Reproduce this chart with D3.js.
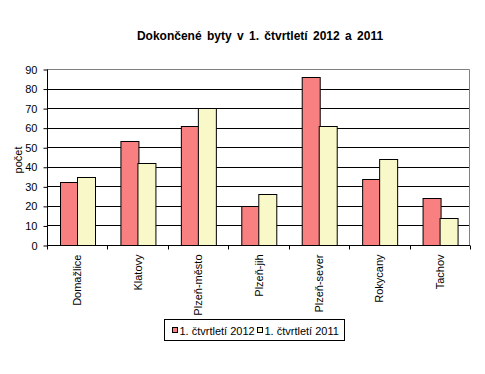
<!DOCTYPE html>
<html>
<head>
<meta charset="utf-8">
<script src="https://cdn.jsdelivr.net/npm/d3@7"></script>
<style>
  body { margin: 0; background: #fff; }
  svg { display: block; font-family: "Liberation Sans", Arial, sans-serif; }
</style>
</head>
<body>
<div id="chart"></div>
<script>
const categories = ['Domažlice', 'Klatovy', 'Plzeň-město', 'Plzeň-jih', 'Plzeň-sever', 'Rokycany', 'Tachov'];
const series = ['1. čtvrtletí 2012', '1. čtvrtletí 2011'];
const values2012 = [32, 53, 61, 20, 86, 34, 24];
const values2011 = [35, 42, 70, 26, 61, 44, 14];
const yTicks = [0, 10, 20, 30, 40, 50, 60, 70, 80, 90];
const colors = ['#f88080', '#f8f8c8'];

const width = 485, height = 374;
const plot = { left: 47, right: 470, top: 69, bottom: 245 };

const svg = d3.select('#chart').append('svg')
  .attr('width', width)
  .attr('height', height);

const x = d3.scaleBand()
  .domain(categories)
  .range([plot.left, plot.right])
  .paddingInner(0)
  .paddingOuter(0);
const inner = d3.scaleBand()
  .domain(series)
  .range([0, x.bandwidth()])
  .paddingInner(0)
  .paddingOuter(0.72); // ~ excel gap width 145%
const y = d3.scaleLinear()
  .domain([0, 90])
  .range([plot.bottom, plot.top]);

// gridlines
svg.append('g')
  .selectAll('line').data(yTicks.filter(d => d > 0 && d < 90)).enter()
  .append('line')
    .attr('x1', plot.left).attr('x2', plot.right)
    .attr('y1', d => Math.round(y(d)) + 0.5).attr('y2', d => Math.round(y(d)) + 0.5)
    .attr('stroke', '#000').attr('stroke-width', 1);

// plot border (gray top/right)
svg.append('path')
  .attr('d', `M${plot.left},${plot.top + 0.5}H${plot.right - 0.5}V${plot.bottom}`)
  .attr('fill', 'none')
  .attr('stroke', '#808080');

// bars
const rows = categories.map((c, i) => ({ cat: c, vals: [values2012[i], values2011[i]] }));
svg.append('g')
  .selectAll('g').data(rows).enter()
  .append('g')
    .attr('transform', d => `translate(${x(d.cat)},0)`)
  .selectAll('rect').data(d => d.vals.map((v, i) => ({ s: series[i], v, i }))).enter()
  .append('rect')
    .attr('x', d => Math.round(inner(d.s)) + 0.5)
    .attr('y', d => Math.round(y(d.v)) + 0.5)
    .attr('width', Math.round(inner.bandwidth()))
    .attr('height', d => Math.round(y(0)) - Math.round(y(d.v)))
    .attr('fill', d => colors[d.i])
    .attr('stroke', '#000');

// y axis
const yAxis = svg.append('g')
  .attr('transform', `translate(${plot.left + 0.5},0.5)`)
  .call(d3.axisLeft(y).tickValues(yTicks).tickSize(4).tickPadding(6));
yAxis.select('.domain').attr('d', `M0,${plot.top}V${plot.bottom}`);
yAxis.selectAll('text').attr('font-size', 11).attr('fill', '#000').attr('font-family', null);
yAxis.selectAll('.tick line').attr('y1', 0);

// x axis
const xAxis = svg.append('g')
  .attr('transform', `translate(0,${plot.bottom + 0.5})`);
xAxis.append('line')
  .attr('x1', plot.left).attr('x2', plot.right)
  .attr('stroke', '#000');
xAxis.selectAll('line.tick').data(d3.range(categories.length + 1)).enter()
  .append('line')
    .attr('class', 'tick')
    .attr('x1', i => Math.round(plot.left + i * x.step()) + 0.5)
    .attr('x2', i => Math.round(plot.left + i * x.step()) + 0.5)
    .attr('y1', 0).attr('y2', 4)
    .attr('stroke', '#000');
xAxis.selectAll('text').data(categories).enter()
  .append('text')
    .attr('transform', d => `translate(${x(d) + x.bandwidth() / 2 + 4},9) rotate(-90)`)
    .attr('text-anchor', 'end')
    .attr('font-size', 11)
    .text(d => d);

// y axis title
svg.append('text')
  .attr('transform', `translate(${22},${160}) rotate(-90)`)
  .attr('text-anchor', 'middle')
  .attr('font-size', 11)
  .text('počet');

// title
svg.append('text')
  .attr('x', 260).attr('y', 40)
  .attr('text-anchor', 'middle')
  .attr('font-size', 12)
  .attr('font-weight', 'bold')
  .attr('word-spacing', 2)
  .text('Dokončené byty v 1. čtvrtletí 2012 a 2011');

// legend
const legend = svg.append('g')
  .attr('transform', 'translate(164.5,319.5)');
legend.append('rect')
  .attr('width', 180).attr('height', 21)
  .attr('fill', '#fff').attr('stroke', '#000');
const items = legend.selectAll('g.item').data(series).enter()
  .append('g')
    .attr('class', 'item')
    .attr('transform', (d, i) => `translate(${i ? 93 : 8},0)`);
items.append('rect')
  .attr('y', 8).attr('width', 5).attr('height', 5)
  .attr('fill', (d, i) => colors[i])
  .attr('stroke', '#000');
items.append('text')
  .attr('x', 7).attr('y', 15)
  .attr('font-size', 11)
  .text(d => d);
</script>
</body>
</html>
